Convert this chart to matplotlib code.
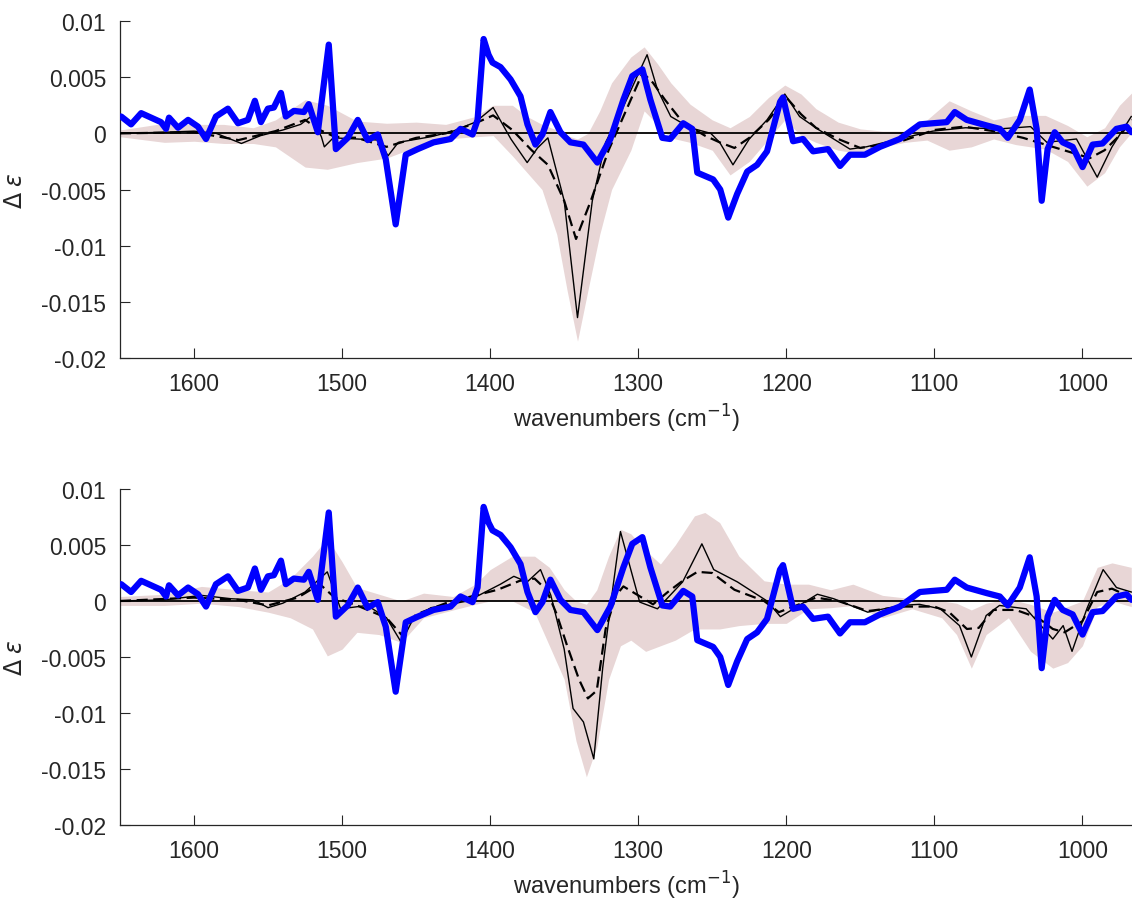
import numpy as np
import matplotlib
matplotlib.use("Agg")
import matplotlib.pyplot as plt

plt.rcParams['font.family'] = ['Liberation Sans', 'DejaVu Sans']
plt.rcParams['axes.unicode_minus'] = False

# ---------------- data ----------------
# experimental spectrum (blue) - same in both panels
exp_wn = [1649.2, 1642.5, 1635.7, 1622.3, 1618.9, 1616.9, 1610.8, 1604.0, 1597.3, 1591.9,
          1585.2, 1577.1, 1570.3, 1563.6, 1558.9, 1554.8, 1550.1, 1546.1, 1541.3, 1538.0,
          1532.6, 1525.8, 1522.5, 1516.4, 1509.0, 1504.2, 1496.2, 1489.4, 1482.7, 1475.9,
          1470.5, 1463.8, 1457.0, 1448.9, 1438.2, 1426.7, 1420.0, 1411.9, 1408.5, 1404.4,
          1401.1, 1398.4, 1393.0, 1386.2, 1379.5, 1374.8, 1369.4, 1364.7, 1359.3, 1352.5,
          1345.8, 1337.0, 1327.6, 1318.8, 1310.0, 1304.0, 1297.2, 1291.8, 1283.7, 1278.4,
          1269.6, 1263.5, 1260.1, 1249.4, 1244.6, 1239.2, 1233.2, 1226.4, 1219.7, 1213.0,
          1204.2, 1202.2, 1195.4, 1188.7, 1181.9, 1171.8, 1163.7, 1157.0, 1146.9, 1136.7,
          1123.3, 1109.8, 1101.0, 1091.6, 1086.2, 1078.1, 1064.6, 1055.8, 1050.4, 1042.3,
          1035.6, 1030.9, 1027.5, 1023.5, 1018.7, 1013.3, 1006.6, 999.9, 993.1, 986.4,
          977.0, 970.2, 966.8]
exp_de = [0.0015, 0.0008, 0.0018, 0.0010, 0.0004, 0.0014, 0.0005, 0.0012, 0.0006, -0.0005,
          0.0015, 0.0022, 0.0009, 0.0012, 0.0029, 0.0010, 0.0022, 0.0023, 0.0036, 0.0015,
          0.0020, 0.0019, 0.0026, 0.0001, 0.0079, -0.0014, -0.0004, 0.0012, -0.0006, -0.0001,
          -0.0023, -0.0081, -0.0019, -0.0014, -0.0008, -0.0005, 0.0004, -0.0001, 0.0012, 0.0084,
          0.0070, 0.0063, 0.0059, 0.0048, 0.0033, 0.0008, -0.0010, -0.0001, 0.0019, 0.0001,
          -0.0008, -0.0010, -0.0026, -0.0005, 0.0030, 0.0051, 0.0057, 0.0030, -0.0004, -0.0005,
          0.0009, 0.0004, -0.0035, -0.0041, -0.0050, -0.0075, -0.0054, -0.0034, -0.0028, -0.0016,
          0.0028, 0.0032, -0.0007, -0.0005, -0.0016, -0.0014, -0.0029, -0.0019, -0.0019, -0.0012,
          -0.0005, 0.0008, 0.0009, 0.0010, 0.0019, 0.0012, 0.0007, 0.0004, -0.0004, 0.0012,
          0.0039, 0.0004, -0.0060, -0.0014, 0.0001, -0.0008, -0.0012, -0.0030, -0.0010, -0.0009,
          0.0004, 0.0006, 0.0001]

# top panel: calculated spectrum (solid), average (dashed), spread band
top_solid_wn = [1650, 1620, 1600, 1585, 1568, 1555, 1540, 1528, 1521, 1514, 1512, 1506, 1490,
                1475, 1469, 1462, 1440, 1425, 1410, 1398, 1386, 1375, 1368, 1361, 1350, 1341,
                1331, 1322, 1311, 1294, 1287, 1278, 1265, 1251, 1245, 1236, 1225, 1213, 1201,
                1191, 1179, 1157, 1146, 1124, 1101, 1079, 1056, 1035, 1024, 1004, 990, 980, 967]
top_solid_de = [0.0, 0.0001, 0.0002, 0.0, -0.0009, -0.0002, 0.0003, 0.0008, 0.0015, -0.0003,
                -0.0012, -0.0004, -0.0005, -0.0006, -0.0020, -0.0008, -0.0003, 0.0002, 0.0010,
                0.0023, -0.0005, -0.0026, -0.0013, -0.0004, -0.0060, -0.0164, -0.0060, -0.0008,
                0.0021, 0.0070, 0.0039, 0.0015, 0.0005, 0.0, -0.0008, -0.0028, -0.0005, 0.0012,
                0.0035, 0.0015, 0.0004, -0.0014, -0.0012, -0.0005, 0.0002, 0.0005, 0.0004,
                0.0006, -0.0008, -0.0005, -0.0039, -0.0012, 0.0015]
top_dash_wn = [1650, 1600, 1570, 1545, 1525, 1515, 1505, 1490, 1470, 1450, 1430, 1410, 1398,
               1385, 1372, 1361, 1350, 1342, 1332, 1320, 1310, 1297, 1290, 1282, 1270, 1255,
               1245, 1235, 1225, 1212, 1200, 1190, 1180, 1165, 1150, 1135, 1120, 1100, 1080,
               1060, 1040, 1020, 1005, 995, 985, 975, 966]
top_dash_de = [0.0, 0.0001, -0.0006, 0.0002, 0.0012, 0.0003, -0.0003, -0.0004, -0.0012, -0.0004,
               0.0, 0.0009, 0.0016, 0.0003, -0.0015, -0.0028, -0.0060, -0.0094, -0.0060, -0.0015,
               0.0015, 0.0054, 0.0045, 0.0030, 0.0010, -0.0002, -0.0008, -0.0013, -0.0004, 0.0012,
               0.0032, 0.0017, 0.0005, -0.0005, -0.0013, -0.0010, -0.0006, 0.0003, 0.0006, 0.0002,
               -0.0004, -0.0012, -0.0018, -0.0022, -0.0015, -0.0002, 0.0012]
top_band_wn = [1650, 1620, 1600, 1580, 1560, 1545, 1525, 1510, 1490, 1470, 1450, 1430, 1410,
               1398, 1385, 1375, 1365, 1355, 1348, 1341, 1334, 1326, 1318, 1305, 1296, 1287,
               1278, 1265, 1250, 1238, 1225, 1212, 1201, 1190, 1180, 1165, 1150, 1135, 1120,
               1105, 1090, 1075, 1060, 1045, 1025, 1010, 997, 985, 975, 966]
top_band_lo = [-0.0003, -0.0008, -0.0007, -0.0009, -0.0009, -0.0012, -0.0030, -0.0032, -0.0026,
               -0.0022, -0.0012, -0.0005, -0.0003, -0.0002, -0.0020, -0.0035, -0.0050, -0.0090,
               -0.0140, -0.0185, -0.0140, -0.0090, -0.0050, -0.0015, 0.0020, 0.0008, -0.0004,
               -0.0008, -0.0015, -0.0037, -0.0025, -0.0005, 0.0012, -0.0002, -0.0008, -0.0015,
               -0.0018, -0.0012, -0.0008, -0.0006, -0.0015, -0.0012, -0.0005, -0.0010, -0.0014,
               -0.0025, -0.0047, -0.0035, -0.0012, 0.0002]
top_band_hi = [0.0003, 0.0009, 0.0008, 0.0008, 0.0005, 0.0012, 0.0030, 0.0025, 0.0011, 0.0009,
               0.0010, 0.0008, 0.0015, 0.0025, 0.0025, 0.0015, 0.0008, 0.0003, -0.0002, -0.0005,
               0.0, 0.0020, 0.0045, 0.0068, 0.0077, 0.0062, 0.0045, 0.0026, 0.0012, 0.0005,
               0.0015, 0.0032, 0.0043, 0.0035, 0.0022, 0.0010, 0.0004, 0.0002, 0.0002, 0.0012,
               0.0029, 0.0020, 0.0012, 0.0016, 0.0016, 0.0007, -0.0003, 0.0005, 0.0025, 0.0037]

# bottom panel
bot_solid_wn = [1650, 1620, 1595, 1575, 1560, 1550, 1540, 1525, 1510, 1501, 1483, 1470, 1460,
                1452, 1440, 1415, 1393, 1384, 1375, 1366, 1359, 1350, 1344, 1337, 1330, 1324,
                1317, 1312, 1305, 1299, 1287, 1270, 1257, 1249, 1233, 1213, 1204, 1195, 1179,
                1168, 1145, 1123, 1110, 1096, 1083, 1075, 1065, 1056, 1038, 1020, 1013, 1007,
                997, 986, 977, 967]
bot_solid_de = [0.0, 0.0001, 0.0005, 0.0002, 0.0001, -0.0006, -0.0002, 0.0008, 0.0026, -0.0007,
                -0.0004, -0.0015, -0.0037, -0.0016, -0.0006, 0.0, 0.0015, 0.0022, 0.0017, 0.0028,
                0.0005, -0.0043, -0.0096, -0.0108, -0.0141, -0.0060, 0.0013, 0.0062, 0.0028,
                -0.0001, -0.0007, 0.0017, 0.0051, 0.0028, 0.0017, 0.0, -0.0014, -0.0007, 0.0006,
                0.0002, -0.0010, -0.0004, -0.0003, -0.0007, -0.0022, -0.0050, -0.0013, -0.0004,
                -0.0007, -0.0034, -0.0022, -0.0045, -0.0007, 0.0028, 0.0012, 0.0008]
bot_dash_wn = [1650, 1600, 1570, 1550, 1530, 1515, 1505, 1490, 1470, 1460, 1450, 1430, 1410,
               1395, 1380, 1370, 1362, 1355, 1348, 1340, 1334, 1328, 1322, 1315, 1310, 1300,
               1290, 1280, 1270, 1260, 1250, 1235, 1215, 1205, 1195, 1180, 1165, 1145, 1120,
               1100, 1090, 1078, 1070, 1060, 1045, 1030, 1020, 1012, 1000, 990, 980, 967]
bot_dash_de = [0.0, 0.0003, 0.0001, -0.0004, 0.0003, 0.0015, 0.0003, -0.0004, -0.0015, -0.0030,
               -0.0012, -0.0002, 0.0005, 0.0010, 0.0018, 0.0020, 0.0010, -0.0012, -0.0040,
               -0.0070, -0.0087, -0.0080, -0.0025, 0.0005, 0.0013, 0.0005, -0.0003, 0.0008,
               0.0018, 0.0026, 0.0025, 0.0010, 0.0, -0.0010, -0.0005, 0.0003, 0.0, -0.0009,
               -0.0005, -0.0005, -0.0010, -0.0025, -0.0024, -0.0008, -0.0008, -0.0015, -0.0025,
               -0.0028, -0.0018, 0.0008, 0.0011, 0.0003]
bot_band_wn = [1650, 1620, 1595, 1570, 1550, 1535, 1520, 1510, 1500, 1490, 1475, 1460, 1445,
               1425, 1410, 1400, 1385, 1370, 1360, 1350, 1342, 1335, 1328, 1320, 1312, 1305,
               1295, 1285, 1275, 1262, 1255, 1245, 1232, 1215, 1200, 1185, 1170, 1155, 1135,
               1115, 1095, 1085, 1075, 1065, 1050, 1035, 1020, 1010, 1000, 990, 980, 967]
bot_band_lo = [-0.0004, -0.0004, -0.0002, -0.0005, -0.0010, -0.0015, -0.0025, -0.0049, -0.0043,
               -0.0028, -0.0030, -0.0037, -0.0015, -0.0008, -0.0003, 0.0, 0.0, -0.0010, -0.0040,
               -0.0070, -0.0125, -0.0157, -0.0130, -0.0070, -0.0040, -0.0035, -0.0045, -0.0040,
               -0.0035, -0.0025, -0.0025, -0.0025, -0.0022, -0.0020, -0.0020, -0.0007, -0.0006,
               -0.0004, -0.0015, -0.0007, -0.0015, -0.0030, -0.0060, -0.0030, -0.0015, -0.0045,
               -0.0060, -0.0055, -0.0040, -0.0005, 0.0, -0.0005]
bot_band_hi = [0.0004, 0.0006, 0.0013, 0.0010, 0.0008, 0.0020, 0.0040, 0.0056, 0.0035, 0.0012,
               0.0006, 0.0, 0.0007, 0.0004, 0.0015, 0.0028, 0.0040, 0.0040, 0.0030, 0.0010, 0.0,
               -0.0003, 0.0010, 0.0040, 0.0064, 0.0060, 0.0045, 0.0033, 0.0050, 0.0076, 0.0079,
               0.0070, 0.0040, 0.0018, 0.0015, 0.0015, 0.0010, 0.0015, 0.0005, 0.0002, 0.0,
               -0.0002, -0.0008, -0.0002, 0.0002, -0.0003, -0.0010, -0.0005, 0.0, 0.0030, 0.0034,
               0.0030]

yticks = [-0.02, -0.015, -0.01, -0.005, 0, 0.005, 0.01]
ytick_labels = ['-0.02', '-0.015', '-0.01', '-0.005', '0', '0.005', '0.01']
xticks = [1600, 1500, 1400, 1300, 1200, 1100, 1000]
xtick_labels = ['1600', '1500', '1400', '1300', '1200', '1100', '1000']

panels = [
    (top_band_wn, top_band_lo, top_band_hi, top_solid_wn, top_solid_de, top_dash_wn, top_dash_de),
    (bot_band_wn, bot_band_lo, bot_band_hi, bot_solid_wn, bot_solid_de, bot_dash_wn, bot_dash_de),
]

# ---------------- figure ----------------
fig = plt.figure(figsize=(11.32, 9.03), dpi=100)
positions = [[0.106, 0.6024, 0.894, 0.3732], [0.106, 0.0853, 0.894, 0.3721]]
axcol = '#262626'
band_col = '#e8d6d6'

for pos, (bwn, blo, bhi, swn, sde, dwn, dde) in zip(positions, panels):
    ax = fig.add_axes(pos)
    ax.fill_between(bwn, blo, bhi, color=band_col, lw=0, zorder=1)
    ax.axhline(0, color='black', lw=1.3, zorder=2)
    ax.plot(dwn, dde, color='black', lw=1.6, dashes=(5, 2.5), zorder=3)
    ax.plot(swn, sde, color='black', lw=1.0, zorder=4)
    ax.plot(exp_wn, exp_de, color='#0000ff', lw=4.5, solid_joinstyle='round',
            solid_capstyle='round', zorder=5)
    ax.set_xlim(1650, 966.5)
    ax.set_ylim(-0.02, 0.01)
    ax.set_xticks(xticks)
    ax.set_xticklabels(xtick_labels)
    ax.set_yticks(yticks)
    ax.set_yticklabels(ytick_labels)
    ax.spines['top'].set_visible(False)
    ax.spines['right'].set_visible(False)
    for s in ('left', 'bottom'):
        ax.spines[s].set_color(axcol)
        ax.spines[s].set_linewidth(0.9)
    ax.tick_params(direction='in', length=7, width=0.8, colors=axcol,
                   labelsize=16.5, labelcolor=axcol, pad=10)
    ax.set_xlabel('wavenumbers (cm$^{\\mathrm{-}1}$)', fontsize=17, color=axcol, labelpad=5)
    ax.set_ylabel(r'$\Delta$ $\epsilon$', fontsize=17, color=axcol, labelpad=10)

fig.savefig('out.png', dpi=100)
